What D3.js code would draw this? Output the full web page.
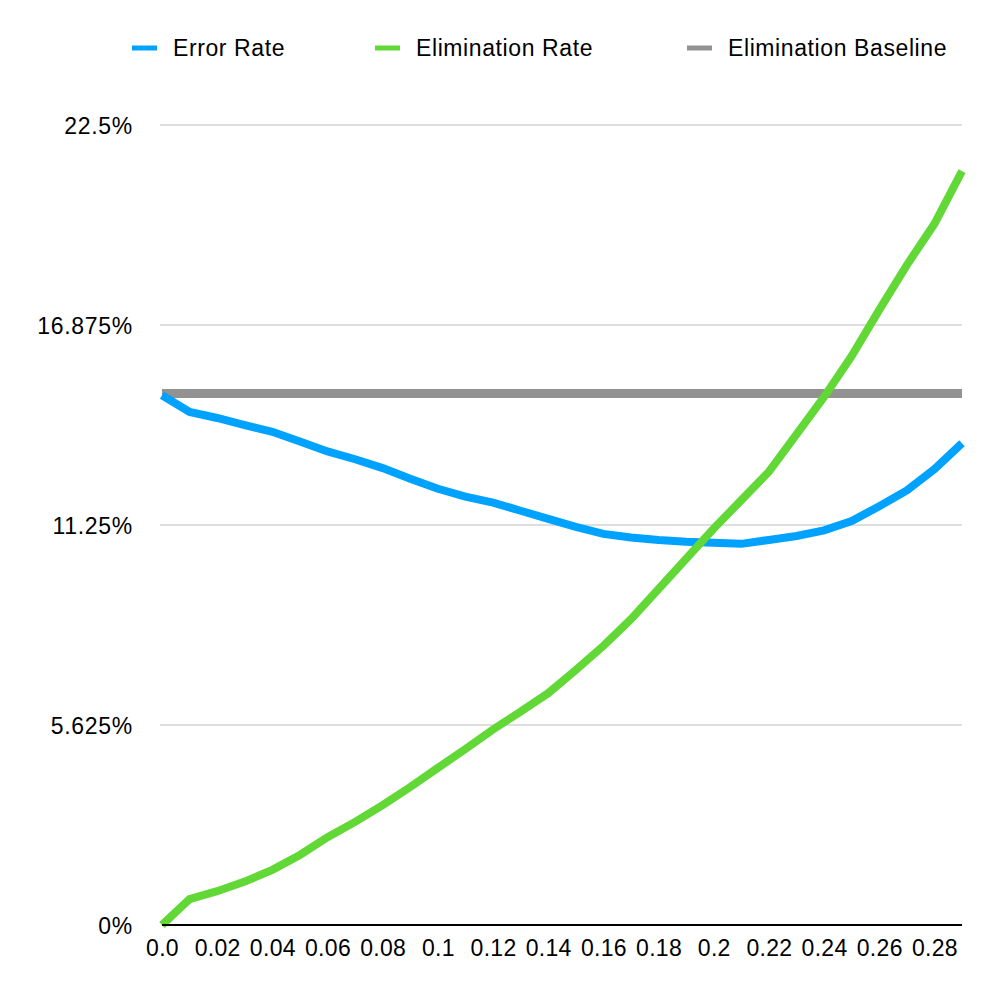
<!DOCTYPE html>
<html>
<head>
<meta charset="utf-8">
<script src="https://cdn.jsdelivr.net/npm/d3@7"></script>
<style>
  html, body { margin: 0; padding: 0; background: #fff; }
  svg { display: block; font-family: "Liberation Sans", Arial, Helvetica, sans-serif; }
</style>
</head>
<body>
<svg id="chart" width="1000" height="1000"></svg>
<script>
// ---- data ----
const xValues = [0.00, 0.01, 0.02, 0.03, 0.04, 0.05, 0.06, 0.07, 0.08, 0.09,
                 0.10, 0.11, 0.12, 0.13, 0.14, 0.15, 0.16, 0.17, 0.18, 0.19,
                 0.20, 0.21, 0.22, 0.23, 0.24, 0.25, 0.26, 0.27, 0.28, 0.29];
const errorRate = [14.9, 14.43, 14.26, 14.06, 13.87, 13.6, 13.32, 13.1, 12.85, 12.55,
                   12.27, 12.05, 11.88, 11.65, 11.42, 11.2, 11.0, 10.9, 10.83, 10.78,
                   10.75, 10.72, 10.83, 10.94, 11.1, 11.36, 11.78, 12.22, 12.82, 13.55];
const eliminationRate = [0, 0.73, 0.95, 1.22, 1.55, 1.97, 2.47, 2.9, 3.37, 3.88,
                         4.42, 4.95, 5.5, 6.0, 6.52, 7.17, 7.85, 8.6, 9.45, 10.3,
                         11.15, 11.95, 12.75, 13.8, 14.85, 16.0, 17.3, 18.56, 19.72, 21.2];
const eliminationBaseline = [14.95, 14.95, 14.95, 14.95, 14.95, 14.95, 14.95, 14.95, 14.95, 14.95,
                             14.95, 14.95, 14.95, 14.95, 14.95, 14.95, 14.95, 14.95, 14.95, 14.95,
                             14.95, 14.95, 14.95, 14.95, 14.95, 14.95, 14.95, 14.95, 14.95, 14.95];
const yTicks = [0, 5.625, 11.25, 16.875, 22.5];
const yTickLabels = ["0%", "5.625%", "11.25%", "16.875%", "22.5%"];
const xTicks = [0.00, 0.02, 0.04, 0.06, 0.08, 0.10, 0.12, 0.14, 0.16, 0.18, 0.20, 0.22, 0.24, 0.26, 0.28];
const xTickLabels = ["0.0", "0.02", "0.04", "0.06", "0.08", "0.1", "0.12", "0.14", "0.16", "0.18", "0.2", "0.22", "0.24", "0.26", "0.28"];
const seriesNames = ["Error Rate", "Elimination Rate", "Elimination Baseline"];
const seriesColors = ["#00A2FF", "#61D836", "#929292"];

// ---- layout ----
const svg = d3.select("#chart");
const plotLeft = 162, plotRight = 962, plotTop = 125, plotBottom = 925;
const x = d3.scaleLinear().domain([0, 0.29]).range([plotLeft, plotRight]);
const y = d3.scaleLinear().domain([0, 22.5]).range([plotBottom, plotTop]);

// gridlines
svg.append("g")
  .selectAll("line")
  .data(yTicks.filter(d => d !== 0))
  .join("line")
  .attr("x1", plotLeft - 2).attr("x2", plotRight)
  .attr("y1", d => y(d)).attr("y2", d => y(d))
  .attr("stroke", "#bdbdbd").attr("stroke-width", 1);

// y axis labels
const yAxis = d3.axisLeft(y).tickValues(yTicks)
  .tickFormat((d, i) => yTickLabels[i]).tickSize(0).tickPadding(0);
svg.append("g").attr("transform", `translate(${plotLeft - 29},0)`).call(yAxis)
  .call(g => g.select(".domain").remove())
  .call(g => g.selectAll("text").attr("font-size", 23).attr("fill", "#000")
    .attr("letter-spacing", "0.7px")
    .attr("font-family", "Liberation Sans, Arial, sans-serif").attr("dy", "0.38em"));

// x axis labels
const xAxis = d3.axisBottom(x).tickValues(xTicks)
  .tickFormat((d, i) => xTickLabels[i]).tickSize(0).tickPadding(0);
svg.append("g").attr("transform", `translate(0,${plotBottom + 14})`).call(xAxis)
  .call(g => g.select(".domain").remove())
  .call(g => g.selectAll("text").attr("font-size", 23).attr("fill", "#000")
    .attr("letter-spacing", "0.3px")
    .attr("font-family", "Liberation Sans, Arial, sans-serif").attr("dy", "0.75em"));

// series
const allSeries = [errorRate, eliminationRate, eliminationBaseline];
const line = d3.line().x((d, i) => x(xValues[i])).y(d => y(d));
const drawOrder = [2, 0, 1];
drawOrder.forEach(k => {
  svg.append("path")
    .datum(allSeries[k])
    .attr("d", line)
    .attr("fill", "none")
    .attr("stroke", seriesColors[k])
    .attr("stroke-width", k === 2 ? 9 : 8)
    .attr("stroke-linejoin", "miter")
    .attr("stroke-linecap", "butt");
});

// x axis baseline
svg.append("line")
  .attr("x1", plotLeft).attr("x2", plotRight)
  .attr("y1", plotBottom).attr("y2", plotBottom)
  .attr("stroke", "#000").attr("stroke-width", 2);

// legend
const legendX = [132, 375, 687];
const leg = svg.append("g").selectAll("g").data(seriesNames).join("g")
  .attr("transform", (d, i) => `translate(${legendX[i]},48)`);
leg.append("line").attr("x1", 0).attr("x2", 25).attr("y1", 0).attr("y2", 0)
  .attr("stroke", (d, i) => seriesColors[i]).attr("stroke-width", 5);
leg.append("text").attr("x", 41).attr("y", 0).attr("dy", "0.36em")
  .attr("font-size", 23).attr("letter-spacing", "0.6px")
  .attr("fill", "#000").text(d => d);
</script>
</body>
</html>
